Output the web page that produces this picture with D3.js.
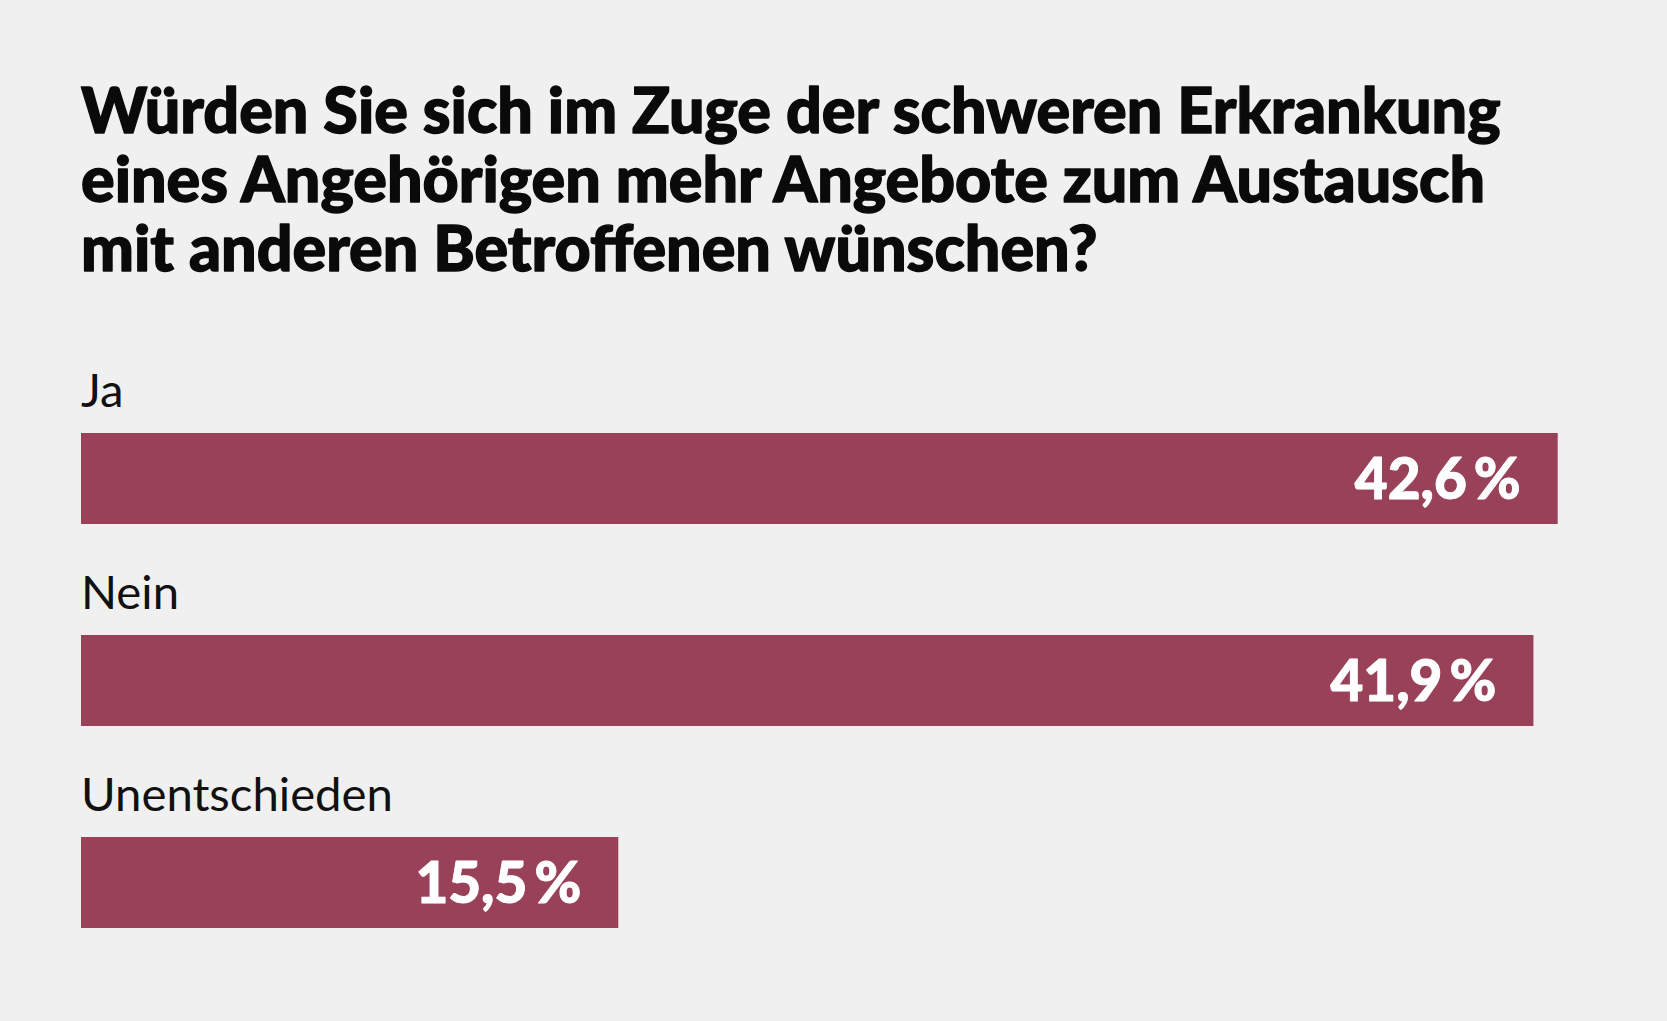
<!DOCTYPE html>
<html>
<head>
<meta charset="utf-8">
<script src="https://cdn.jsdelivr.net/npm/d3@7"></script>
<style>
  html, body { margin: 0; padding: 0; background: #f0f0f0; }
  svg { display: block; }
</style>
</head>
<body>
<svg id="chart" width="1667" height="1021"></svg>
<script>
const titleLines = [
  "Würden Sie sich im Zuge der schweren Erkrankung",
  "eines Angehörigen mehr Angebote zum Austausch",
  "mit anderen Betroffenen wünschen?"
];
const categories = ["Ja", "Nein", "Unentschieden"];
const values = [42.6, 41.9, 15.5];

const W = 1667, H = 1021;
const svg = d3.select("#chart");
svg.append("rect").attr("width", W).attr("height", H).attr("fill", "#f0f0f0");

const left = 81;
const barColor = "#9a415a";

const loc = d3.formatLocale({decimal: ",", thousands: ".", grouping: [3], currency: ["", "€"]});
const fmt = loc.format(".1f");

function fitSize(sel, target) {
  const fs = parseFloat(sel.attr("font-size"));
  const w = sel.node().getComputedTextLength();
  sel.attr("font-size", fs * target / w);
  return fs * target / w;
}

// Title
const titleG = svg.append("g");
const titleBase = [133, 202, 271];
const tFirst = titleG.append("text")
  .attr("x", left).attr("y", titleBase[0])
  .attr("font-family", "Lato, 'Open Sans', sans-serif")
  .attr("font-weight", 900).attr("font-size", 55)
  .attr("fill", "#0a0a0a")
  .attr("stroke", "#0a0a0a").attr("stroke-width", 1.4).attr("stroke-linejoin", "round")
  .text(titleLines[0]);
const tfs = fitSize(tFirst, 1420);
titleLines.slice(1).forEach((t, i) => {
  titleG.append("text")
    .attr("x", left).attr("y", titleBase[i + 1])
    .attr("font-family", "Lato, 'Open Sans', sans-serif")
    .attr("font-weight", 900).attr("font-size", tfs)
    .attr("fill", "#0a0a0a")
    .attr("stroke", "#0a0a0a").attr("stroke-width", 1.4).attr("stroke-linejoin", "round")
    .text(t);
});

// Scales
const x = d3.scaleLinear().domain([0, d3.max(values)]).range([left, 1557.7]);
const y = d3.scaleBand().domain(categories).range([433, 928]).paddingInner(111 / 202).paddingOuter(0);

// Category labels
const labels = svg.append("g").selectAll("text").data(categories).join("text")
  .attr("x", left)
  .attr("y", d => y(d) - 26)
  .attr("font-family", "Lato, 'Open Sans', sans-serif")
  .attr("font-weight", 400)
  .attr("font-size", 42)
  .attr("fill", "#111")
  .text(d => d);
const unNode = labels.filter(d => d === "Unentschieden");
const lfs = fitSize(unNode, 312);
labels.attr("font-size", lfs);

// Bars
svg.append("g").selectAll("rect").data(values).join("rect")
  .attr("x", x(0))
  .attr("y", (d, i) => y(categories[i]))
  .attr("width", d => x(d) - x(0))
  .attr("height", y.bandwidth())
  .attr("fill", barColor);

// Value labels
const vals = svg.append("g").selectAll("text").data(values).join("text")
  .attr("x", d => x(d) - 37)
  .attr("y", (d, i) => y(categories[i]) + 66)
  .attr("text-anchor", "end")
  .attr("font-family", "Lato, 'Open Sans', sans-serif")
  .attr("font-weight", 900)
  .attr("font-size", 50)
  .attr("fill", "#ffffff")
  .attr("stroke", "#ffffff").attr("stroke-width", 1).attr("stroke-linejoin", "round")
  .text(d => fmt(d) + "\u2009%");
const vfs = fitSize(d3.select(vals.nodes()[0]), 166);
vals.attr("font-size", vfs);
</script>
</body>
</html>
